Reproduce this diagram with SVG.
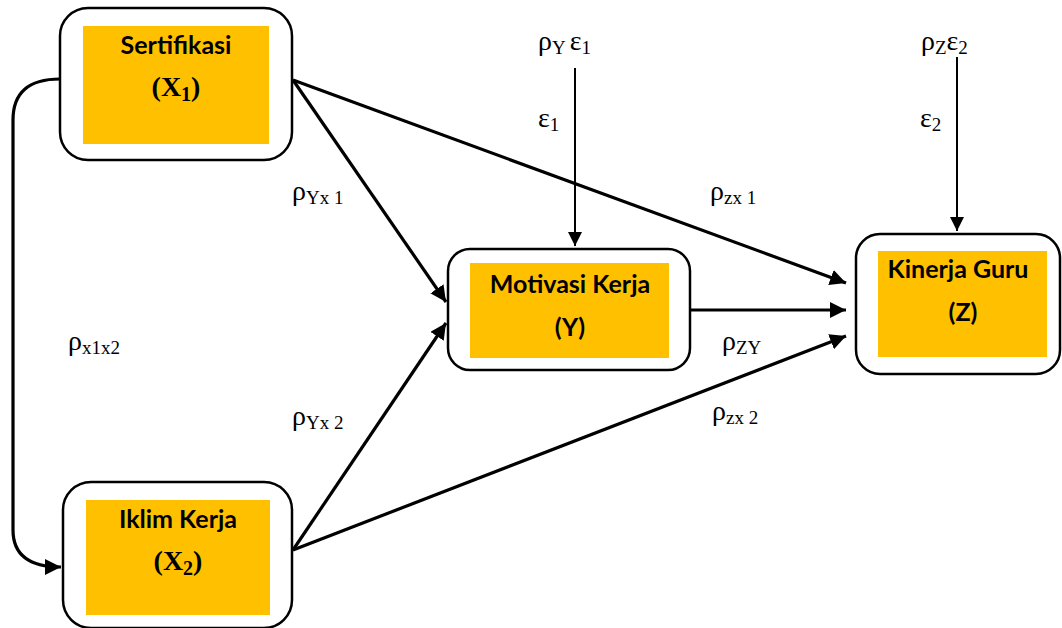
<svg xmlns="http://www.w3.org/2000/svg" width="1062" height="628" viewBox="0 0 1062 628">
<style>
.box{fill:#fff;stroke:#000;stroke-width:2.5}
.inner{fill:#FFC000}
.nt{font-family:Lato,"Liberation Sans",sans-serif;font-weight:bold;font-size:25px;fill:#000;text-anchor:middle}
.mt{font-family:"Liberation Serif",serif;font-weight:bold;font-size:28px;fill:#000;text-anchor:middle}
.lb{font-family:"Liberation Serif","DejaVu Serif",serif;font-size:28px;fill:#000}
.sb{font-size:19px}
.c{fill:none;stroke:#000;stroke-width:3.2}
.t{fill:none;stroke:#000;stroke-width:2}
</style>
<defs>
<marker id="ah" viewBox="0 0 10 10" refX="10" refY="5" markerWidth="5" markerHeight="5" markerUnits="strokeWidth" orient="auto">
<path d="M0,0 L10,5 L0,10 z" fill="#000"/>
</marker>
<marker id="ah2" viewBox="0 0 10 10" refX="10" refY="5" markerWidth="7" markerHeight="7" markerUnits="strokeWidth" orient="auto">
<path d="M0,0 L10,5 L0,10 z" fill="#000"/>
</marker>
</defs>
<g id="connectors">
<path class="c" d="M60,79 Q13,79 13,120 L13,530 Q13,567 61,567" marker-end="url(#ah)"/>
<line class="c" x1="293" y1="80" x2="446" y2="302" marker-end="url(#ah)"/>
<line class="c" x1="293" y1="80" x2="846" y2="283" marker-end="url(#ah)"/>
<line class="c" x1="293" y1="550" x2="446" y2="323" marker-end="url(#ah)"/>
<line class="c" x1="293" y1="550" x2="846" y2="336" marker-end="url(#ah)"/>
<line class="c" x1="690" y1="310" x2="846" y2="310" marker-end="url(#ah)"/>
<line class="t" x1="575" y1="68" x2="575" y2="246" marker-end="url(#ah2)"/>
<line class="t" x1="957" y1="57" x2="957" y2="231" marker-end="url(#ah2)"/>
</g>
<g id="node-x1">
<rect class="box" x="60" y="8" width="232" height="152" rx="28"/>
<rect class="inner" x="83" y="26" width="186" height="118"/>
<text class="nt" x="176" y="54">Sertifikasi</text>
<text class="mt" x="176" y="96">(X<tspan font-size="20" dy="5">1</tspan><tspan dy="-5">)</tspan></text>
</g>
<g id="node-x2">
<rect class="box" x="63" y="482" width="229" height="146" rx="28"/>
<rect class="inner" x="86" y="500" width="184" height="115"/>
<text class="nt" x="178" y="528">Iklim Kerja</text>
<text class="mt" x="178" y="570">(X<tspan font-size="20" dy="5">2</tspan><tspan dy="-5">)</tspan></text>
</g>
<g id="node-y">
<rect class="box" x="448" y="249" width="242" height="121" rx="22"/>
<rect class="inner" x="470" y="263" width="199" height="95"/>
<text class="nt" x="570" y="293">Motivasi Kerja</text>
<text class="nt" x="570" y="336">(Y)</text>
</g>
<g id="node-z">
<rect class="box" x="856" y="234" width="204" height="140" rx="24"/>
<rect class="inner" x="878" y="251" width="169" height="106"/>
<text class="nt" x="958" y="278">Kinerja Guru</text>
<text class="nt" x="963" y="321">(Z)</text>
</g>
<g id="labels">
<text class="lb" x="538" y="50">ρ<tspan class="sb" dy="4">Y</tspan><tspan dx="4" dy="-4">ε</tspan><tspan class="sb" dy="4">1</tspan></text>
<text class="lb" x="538" y="127">ε<tspan class="sb" dy="4">1</tspan></text>
<text class="lb" x="921" y="50">ρ<tspan class="sb" dy="4">Z</tspan><tspan dy="-4">ε</tspan><tspan class="sb" dy="4">2</tspan></text>
<text class="lb" x="920" y="127">ε<tspan class="sb" dy="4">2</tspan></text>
<text class="lb" x="292" y="200">ρ<tspan class="sb" dy="4">Yx 1</tspan></text>
<text class="lb" x="710" y="200">ρ<tspan class="sb" dy="4">zx 1</tspan></text>
<text class="lb" x="68" y="350">ρ<tspan class="sb" dy="4">x1x2</tspan></text>
<text class="lb" x="292" y="425">ρ<tspan class="sb" dy="4">Yx 2</tspan></text>
<text class="lb" x="722" y="350">ρ<tspan class="sb" dy="4">ZY</tspan></text>
<text class="lb" x="712" y="420">ρ<tspan class="sb" dy="4">zx 2</tspan></text>
</g>
</svg>
